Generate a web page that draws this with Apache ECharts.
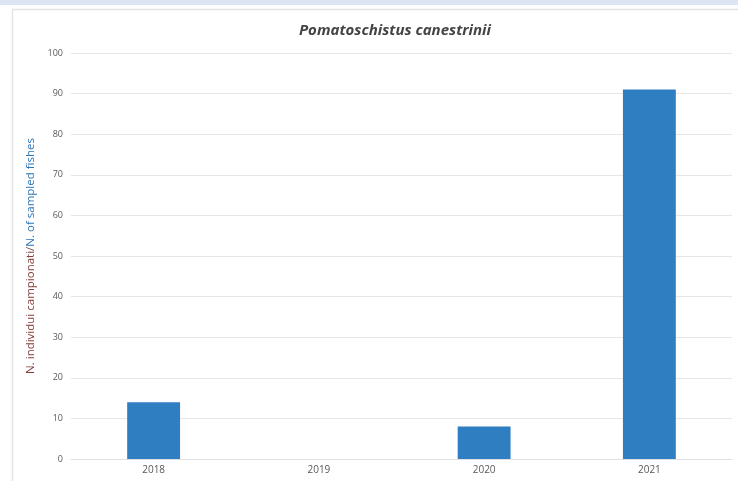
<!DOCTYPE html>
<html>
<head>
<meta charset="utf-8">
<script src="https://cdn.jsdelivr.net/npm/echarts@6/dist/echarts.min.js"></script>
<style>
  html, body { margin: 0; padding: 0; background: #fff; }
  #chart { width: 738px; height: 481px; }
</style>
</head>
<body>
<div id="chart"></div>
<script>
var years = ['2018', '2019', '2020', '2021']
var fishes = [14, 0, 8, 91]
var yTicks = { min: 0, max: 100, step: 10 }

var chart = echarts.init(document.getElementById('chart'))

var options = {
  animation: false,
  title: {
    text: 'Pomatoschistus canestrinii',
    left: 390,
    top: 18,
    textAlign: 'center',
    textStyle: {
      fontFamily: 'Open Sans',
      fontStyle: 'italic',
      fontWeight: 'bold',
      fontSize: 15,
      color: '#444444'
    }
  },
  graphic: [
    {
      type: 'rect',
      shape: { x: 0, y: 0, width: 738, height: 5 },
      style: { fill: '#dbe5f3' },
      silent: true
    },
    {
      type: 'rect',
      shape: { x: 12.5, y: 9.5, width: 740, height: 480 },
      style: { fill: 'none', stroke: '#e4e4e4', lineWidth: 1.5 },
      silent: true
    }
  ],
  grid: { left: 71, right: 6, top: 53, bottom: 22 },
  xAxis: {
    type: 'category',
    data: years,
    axisTick: { show: false },
    axisLine: { lineStyle: { color: '#e0e0e0' } },
    axisLabel: { color: '#595959', fontSize: 10, fontFamily: 'Open Sans', margin: 6 }
  },
  yAxis: {
    type: 'value',
    min: yTicks.min,
    max: yTicks.max,
    interval: yTicks.step,
    axisLine: { show: false },
    axisTick: { show: false },
    splitLine: { lineStyle: { color: '#e6e6e6' } },
    axisLabel: { color: '#595959', fontSize: 9, fontFamily: 'Open Sans', margin: 8 },
    name: '{a|N. individui campionati/}{b|N. of sampled fishes}',
    nameLocation: 'middle',
    nameGap: 34,
    nameRotate: 90,
    nameTextStyle: {
      rich: {
        a: { color: '#843c39', fontSize: 11.5, fontFamily: 'Open Sans' },
        b: { color: '#2e75b6', fontSize: 11.5, fontFamily: 'Open Sans' }
      }
    }
  },
  series: [
    {
      type: 'bar',
      data: fishes,
      barWidth: '32%',
      itemStyle: { color: '#2f7ec1' }
    }
  ]
}

chart.setOption(options)
window.addEventListener('resize', chart.resize)
</script>
</body>
</html>
